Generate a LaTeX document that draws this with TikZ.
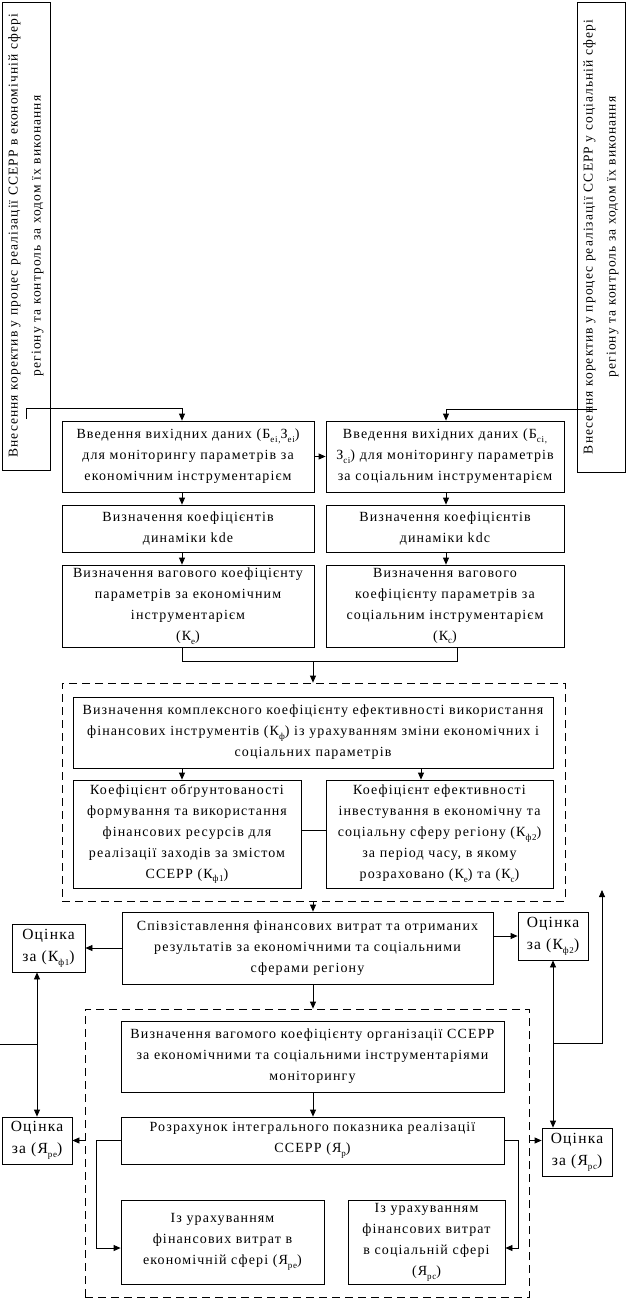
\documentclass[tikz,border=0pt]{standalone}
\usepackage{fontspec}
\setmainfont{Liberation Serif}[LetterSpace=8]
\usetikzlibrary{arrows.meta,calc}
\newcommand{\lowsub}[1]{\raisebox{-0.6ex}{\fontsize{9}{9}\selectfont #1}}
\tikzset{
  box/.style={draw, line width=0.8pt, align=center, inner sep=1pt,
    font=\fontsize{14}{21}\selectfont},
  obox/.style={box, font=\fontsize{15.5}{22}\selectfont},
  vbox/.style={draw, line width=0.8pt, align=center, inner sep=0pt},
  vtext/.style={rotate=90, align=center, inner sep=0pt,
    font=\fontsize{13.5}{23}\selectfont},
  dbox/.style={draw, line width=0.8pt, dash pattern=on 8pt off 5pt},
  conn/.style={line width=0.8pt},
  arr/.style={line width=0.8pt, -{Triangle[width=6pt,length=7pt]}}
}
\begin{document}
\begin{tikzpicture}[x=1pt,y=-1pt]
\path[use as bounding box, fill=white] (0,0) rectangle (638,1309);

% vertical side boxes
\node[vbox, minimum width=48pt, minimum height=468pt] (lv) at (26,236) {};
\node[vtext, text width=460pt] (lvt) at (26,236) {Внесення коректив у процес реалізації ССЕРР в економічній сфері\\регіону та контроль за ходом їх виконання};
\node[vbox, minimum width=48pt, minimum height=470pt] (rv) at (601,237) {};
\node[vtext, text width=460pt] (rvt) at (601,237) {Внесення коректив у процес реалізації ССЕРР у соціальній сфері\\регіону та контроль за ходом їх виконання};

% first rows
\node[box, minimum width=252pt, minimum height=71pt] (b1L) at (188,456.5) {Введення вихідних даних (Б\lowsub{ei,}З\lowsub{ei})\\для моніторингу параметрів за\\економічним інструментарієм};
\node[box, minimum width=238pt, minimum height=71pt] (b1R) at (445,456.5) {Введення вихідних даних (Б\lowsub{ci,}\\З\lowsub{ci}) для моніторингу параметрів\\за соціальним інструментарієм};
\node[box, minimum width=252pt, minimum height=47pt] (b2L) at (188,528.5) {Визначення коефіцієнтів\\динаміки kde};
\node[box, minimum width=238pt, minimum height=47pt] (b2R) at (445,528.5) {Визначення коефіцієнтів\\динаміки kdc};
\node[box, minimum width=252pt, minimum height=82pt] (b3L) at (188,606) {Визначення вагового коефіцієнту\\параметрів за економічним\\інструментарієм\\(К\lowsub{е})};
\node[box, minimum width=238pt, minimum height=82pt] (b3R) at (445,606) {Визначення вагового\\коефіцієнту параметрів за\\соціальним інструментарієм\\(К\lowsub{с})};

% first dashed group
\node[dbox, minimum width=503pt, minimum height=218pt] (d1) at (313.5,792) {};
\node[box, minimum width=480pt, minimum height=71pt] (big) at (313,732.5) {Визначення комплексного коефіцієнту ефективності використання\\фінансових інструментів (К\lowsub{ф}) із урахуванням зміни економічних і\\соціальних параметрів};
\node[box, minimum width=228pt, minimum height=108pt] (kf1) at (187,834) {Коефіцієнт обґрунтованості\\формування та використання\\фінансових ресурсів для\\реалізації заходів за змістом\\ССЕРР (К\lowsub{ф1})};
\node[box, minimum width=227pt, minimum height=108pt] (kf2) at (439.5,834) {Коефіцієнт ефективності\\інвестування в економічну та\\соціальну сферу регіону (К\lowsub{ф2})\\за період часу, в якому\\розраховано (К\lowsub{е}) та (К\lowsub{с})};

% comparison
\node[box, minimum width=371pt, minimum height=72pt] (comp) at (307.5,948) {Співзіставлення фінансових витрат та отриманих\\результатів за економічними та соціальними\\сферами регіону};
\node[obox, minimum width=73pt, minimum height=48pt] (okf1) at (48.5,948) {Оцінка\\за (К\lowsub{ф1})};
\node[obox, minimum width=70pt, minimum height=48pt] (okf2) at (553,936) {Оцінка\\за (К\lowsub{ф2})};

% second dashed group
\node[dbox, minimum width=444pt, minimum height=288pt] (d2) at (307,1153) {};
\node[box, minimum width=383pt, minimum height=71pt] (vag) at (312.5,1056.5) {Визначення вагомого коефіцієнту організації ССЕРР\\за економічними та соціальними інструментаріями\\моніторингу};
\node[box, minimum width=383pt, minimum height=47pt] (roz) at (312.5,1140.5) {Розрахунок інтегрального показника реалізації\\ССЕРР (Я\lowsub{р})};
\node[box, minimum width=203pt, minimum height=84pt] (eco) at (222.5,1242) {Із урахуванням\\фінансових витрат в\\економічній сфері (Я\lowsub{ре})};
\node[box, minimum width=157pt, minimum height=84pt] (soc) at (426.5,1242) {Із урахуванням\\фінансових витрат\\в соціальній сфері\\(Я\lowsub{рс})};
\node[obox, minimum width=70pt, minimum height=47pt] (ore) at (37,1140.5) {Оцінка\\за (Я\lowsub{ре})};
\node[obox, minimum width=70pt, minimum height=48pt] (orc) at (577,1152) {Оцінка\\за (Я\lowsub{рс})};

% helper coordinates
\coordinate (colL) at (182,0);
\coordinate (colR) at (446,0);
\coordinate (colR2) at (457,0);
\coordinate (colK) at (421,0);
\coordinate (jn) at (313,661);
\coordinate (lvs) at (26,419);
\coordinate (topL) at (182,408);
\coordinate (rvs) at (597,409);
\coordinate (topR) at (446,409);
\coordinate (midK) at (0,830);
\coordinate (lin) at (0,1044);
\coordinate (tL) at (37,1044);
\coordinate (tR) at (553,1043);
\coordinate (upEnd) at (602,890);
\coordinate (ecoIn) at (0,1248);

% top connectors
\draw[arr] (lvs) |- (topL) -- (b1L.north -| topL);
\draw[arr] (rvs) -- (topR) -- (b1R.north -| topR);
\draw[arr] (b1L.east) -- (b1R.west);

\draw[arr] (b1L.south -| colL) -- (b2L.north -| colL);
\draw[arr] (b1R.south -| colR) -- (b2R.north -| colR);
\draw[arr] (b2L.south -| colL) -- (b3L.north -| colL);
\draw[arr] (b2R.south -| colR) -- (b3R.north -| colR);

\draw[conn] (b3L.south -| colL) -- (colL |- jn) -- (jn -| colR2) -- (b3R.south -| colR2);
\draw[arr] (jn) -- (d1.north -| jn);

\draw[arr] (big.south -| colL) -- (kf1.north -| colL);
\draw[arr] (big.south -| colK) -- (kf2.north -| colK);
\draw[conn] (kf1.east |- midK) -- (kf2.west |- midK);

\draw[arr] (d1.south -| jn) -- (comp.north -| jn);
\draw[arr] (comp.west |- okf1.east) -- (okf1.east);
\draw[arr] (comp.east |- okf2.west) -- (okf2.west);
\draw[arr] (comp.south -| jn) -- (d2.north -| jn);
\draw[arr] (vag.south -| jn) -- (roz.north -| jn);

% left trunk
\draw[conn] (lin) -- (tL);
\draw[arr] (tL) -- (tL |- okf1.south);
\draw[arr] (tL) -- (ore.north);
% right trunk
\draw[arr] (tR) -- (okf2.south);
\draw[arr] (tR) -- (tR |- orc.north);
\draw[arr] (tR) -| (upEnd);

% calculation branches
\draw[arr] (roz.west) -- ++(-24,0) |- (eco.west |- ecoIn);
\draw[arr] (roz.east) -- ++(14,0) |- (soc.east |- ecoIn);
\draw[arr] (roz.west -| d2.west) -- (roz.west -| ore.east);
\draw[arr] (roz.east -| d2.east) -- (roz.east -| orc.west);
\end{tikzpicture}
\end{document}
